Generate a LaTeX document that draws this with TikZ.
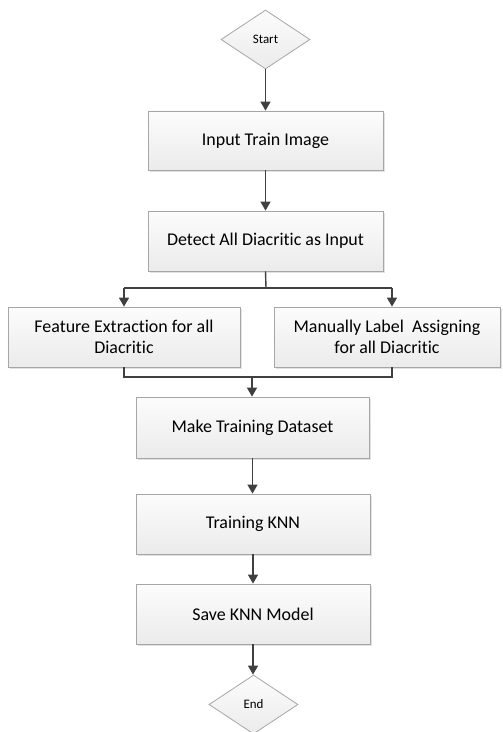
\documentclass[tikz,border=0pt]{standalone}
\usepackage{fontspec}
\setmainfont{Carlito}[Ligatures=NoCommon]
\usetikzlibrary{shapes.geometric,arrows.meta,shadows}
\definecolor{edgegray}{HTML}{A6A6A6}
\definecolor{linegray}{HTML}{404040}
\definecolor{shadegray}{HTML}{E2E2E2}
\definecolor{filltop}{HTML}{FCFCFC}
\definecolor{fillbot}{HTML}{EBEBEB}
\tikzset{
  procbox/.style={draw=edgegray, line width=0.8bp, top color=filltop,
    bottom color=fillbot, inner sep=2bp, align=center,
    font=\fontsize{18}{21}\selectfont,
    drop shadow={shadow xshift=2bp, shadow yshift=-2bp, fill=shadegray, opacity=1}},
  termdia/.style={diamond, draw=edgegray, line width=0.8bp, top color=filltop,
    bottom color=fillbot, inner sep=0pt, minimum width=89bp, minimum height=59bp,
    font=\fontsize{13}{15}\selectfont},
  flow/.style={draw=linegray, line width=1.4bp,
    -{Triangle[width=10bp,length=9bp]}},
  flowline/.style={draw=linegray, line width=1.4bp}
}
\begin{document}
\begin{tikzpicture}[x=1bp,y=-1bp]
\useasboundingbox (0,0) rectangle (503,732);

% terminals
\node[termdia] (start) at (265.5,39.5) {Start};
\node[termdia] (end)   at (253.5,704.5) {End};

% process steps
\node[procbox, minimum width=235bp, minimum height=59bp] (in)  at (265.5,140.5) {Input Train Image};
\node[procbox, minimum width=235bp, minimum height=60bp] (det) at (265.5,241) {Detect All Diacritic as Input};
\node[procbox, minimum width=232bp, minimum height=60bp] (fe)  at (124,337) {Feature Extraction for all\\Diacritic};
\node[procbox, minimum width=226bp, minimum height=60bp] (ml)  at (387,337) {Manually Label\ \ Assigning\\for all Diacritic};
\node[procbox, minimum width=233bp, minimum height=61bp] (mt)  at (252.5,427.5) {Make Training Dataset};
\node[procbox, minimum width=234bp, minimum height=60bp] (tk)  at (253,524) {Training KNN};
\node[procbox, minimum width=234bp, minimum height=60bp] (sv)  at (253,614) {Save KNN Model};

% split and merge points
\coordinate (split) at (266,288);
\coordinate (splitL) at (124,288);
\coordinate (splitR) at (392,288);
\coordinate (mergeL) at (124,377);
\coordinate (mergeR) at (392,377);
\coordinate (merge) at (252,377);

% connectors
\draw[flow] (start.south) -- (start.south |- in.north);
\draw[flow] (in.south) -- (det.north);
\draw[flowline] (det.south) -- (split);
\draw[flowline] (splitL) -- (splitR);
\draw[flow] (splitL) -- (splitL |- fe.north);
\draw[flow] (splitR) -- (splitR |- ml.north);
\draw[flowline] (mergeL |- fe.south) -- (mergeL) -- (mergeR) -- (mergeR |- ml.south);
\draw[flow] (merge) -- (merge |- mt.north);
\draw[flow] (mt.south) -- (mt.south |- tk.north);
\draw[flow] (tk.south) -- (tk.south |- sv.north);
\draw[flow] (sv.south) -- (sv.south |- end.north);
\end{tikzpicture}
\end{document}
